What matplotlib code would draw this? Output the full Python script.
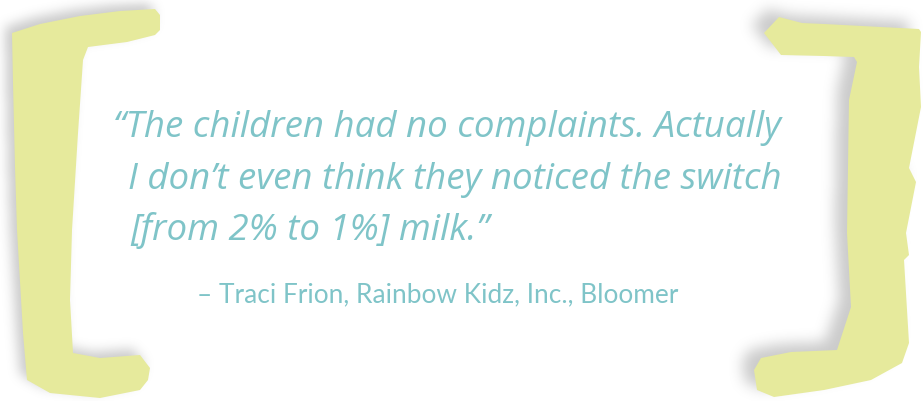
import matplotlib
matplotlib.use("Agg")
import matplotlib.pyplot as plt
import numpy as np
from matplotlib.path import Path
from matplotlib.patches import Polygon

W, H = 924, 401

# bracket outlines in pixel coordinates (y down)
left_bracket = [
    (12, 33), (40, 24), (80, 16), (120, 11), (155, 9), (160, 15), (160, 30), (155, 35),
    (127, 42), (88, 47), (83, 60), (78, 133), (72, 230), (70, 300), (73, 353),
    (100, 358), (140, 355), (150, 368), (148, 380), (140, 390), (100, 398),
    (50, 393), (27, 380), (23, 333), (17, 230), (15, 167), (13, 83),
]
right_bracket = [
    (764, 33), (779, 17), (802, 23), (824, 24), (919, 29), (921, 32),
    (919, 67), (921, 107), (909, 168), (916, 182), (906, 233), (909, 255),
    (904, 260), (909, 343), (902, 363), (871, 380), (824, 390), (774, 397),
    (757, 390), (754, 370), (761, 358), (791, 352), (837, 350), (851, 307),
    (847, 233), (849, 100), (857, 62), (854, 57), (824, 56), (781, 55),
]

quote_lines = [
    "\u201cThe children had no complaints. Actually",
    "I don\u2019t even think they noticed the switch",
    "[from 2% to 1%] milk.\u201d",
]
quote_x = [113, 128, 130]
quote_y = [137, 189, 240]
attribution = "\u2013 Traci Frion, Rainbow Kidz, Inc., Bloomer"

BRACKET = "#e6ea9c"
TEAL = "#7fc4c8"


def blur(a, r, n=3):
    k = np.ones(2 * r + 1) / (2 * r + 1)
    for _ in range(n):
        a = np.apply_along_axis(lambda v: np.convolve(v, k, mode="same"), 0, a)
        a = np.apply_along_axis(lambda v: np.convolve(v, k, mode="same"), 1, a)
    return a


def shadow(poly, dx, dy, r):
    yy, xx = np.mgrid[0:H, 0:W]
    pts = np.column_stack([xx.ravel() + 0.5, yy.ravel() + 0.5])
    moved = [(x + dx, y + dy) for x, y in poly]
    mask = Path(moved).contains_points(pts).reshape(H, W).astype(float)
    return blur(mask, r)


fig = plt.figure(figsize=(W / 100, H / 100), dpi=100)
ax = fig.add_axes([0, 0, 1, 1])
ax.set_xlim(0, W)
ax.set_ylim(H, 0)
ax.axis("off")

sh = np.maximum(shadow(left_bracket, -7, -6, 5), shadow(right_bracket, -12, -8, 6))
rgba = np.zeros((H, W, 4))
rgba[..., :3] = 0.55
rgba[..., 3] = sh * 0.45
ax.imshow(rgba, extent=(0, W, H, 0), interpolation="bilinear", zorder=1)

ax.add_patch(Polygon(left_bracket, closed=True, facecolor=BRACKET, edgecolor="none", zorder=2))
ax.add_patch(Polygon(right_bracket, closed=True, facecolor=BRACKET, edgecolor="none", zorder=2))

# size the quote so the first line spans the same width as in the picture
renderer = fig.canvas.get_renderer()
qfont = dict(family="Open Sans", style="italic")
t = ax.text(quote_x[0], quote_y[0], quote_lines[0], fontsize=24, color=TEAL,
            va="baseline", zorder=3, **qfont)
w = t.get_window_extent(renderer).width
fs = 24 * (780 - 113) / w
t.set_fontsize(fs)
for x, y, line in zip(quote_x[1:], quote_y[1:], quote_lines[1:]):
    ax.text(x, y, line, fontsize=fs, color=TEAL, va="baseline", zorder=3, **qfont)

a = ax.text(197, 302, attribution, family="Lato", fontsize=15, color=TEAL,
            va="baseline", zorder=3)
w = a.get_window_extent(renderer).width
a.set_fontsize(15 * (678 - 197) / w)

fig.savefig("out.png", dpi=100)
